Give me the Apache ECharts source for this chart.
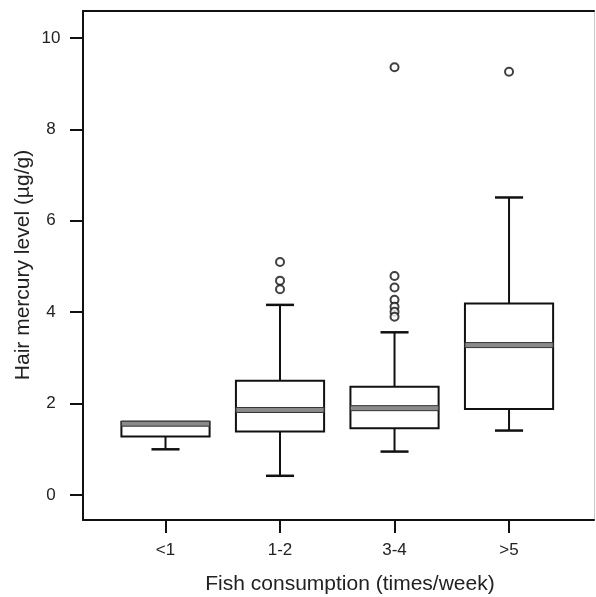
<!DOCTYPE html>
<html>
<head>
<meta charset="utf-8">
<script src="https://cdn.jsdelivr.net/npm/echarts@6/dist/echarts.min.js"></script>
<style>
  html, body { margin: 0; padding: 0; background: #fff; }
  #chart { width: 596px; height: 597px; }
</style>
</head>
<body>
<div id="chart"></div>
<script>
// groups on the x axis
var categories = ["<1", "1-2", "3-4", ">5"];
// box stats per group: lower whisker, Q1, median, Q3, upper whisker
var lowerWhisker = [1.0, 0.42, 0.95, 1.41];
var q1 = [1.28, 1.39, 1.46, 1.88];
var median = [1.56, 1.86, 1.90, 3.28];
var q3 = [1.60, 2.50, 2.37, 4.19];
var upperWhisker = [1.60, 4.16, 3.56, 6.51];
// outliers: [group index, value]
var outliers = [
  [1, 5.10], [1, 4.69], [1, 4.50],
  [2, 9.36], [2, 4.79], [2, 4.54], [2, 4.27], [2, 4.12], [2, 4.01], [2, 3.90],
  [3, 9.26]
];
var yTicks = [0, 2, 4, 6, 8, 10];

var boxData = categories.map(function (c, i) {
  return [i + 1, lowerWhisker[i], q1[i], median[i], q3[i], upperWhisker[i]];
});
var outlierData = outliers.map(function (o) { return [o[0] + 1, o[1]]; });

var boxW = 0.77;  // box width in x units
var capW = 0.245; // whisker cap width

function renderBox(params, api) {
  var x = api.value(0);
  var pLow = api.coord([x, api.value(1)]);
  var pQ1 = api.coord([x, api.value(2)]);
  var pMed = api.coord([x, api.value(3)]);
  var pQ3 = api.coord([x, api.value(4)]);
  var pUp = api.coord([x, api.value(5)]);
  var half = api.size([boxW, 0])[0] / 2;
  var capHalf = api.size([capW, 0])[0] / 2;
  var cx = pQ1[0];
  var lineStyle = { stroke: "#111", lineWidth: 2 };
  var children = [];
  if (pUp[1] < pQ3[1] - 1) {
    children.push({ type: "line", shape: { x1: cx, y1: pQ3[1], x2: cx, y2: pUp[1] }, style: lineStyle });
    children.push({ type: "line", shape: { x1: cx - capHalf, y1: pUp[1], x2: cx + capHalf, y2: pUp[1] }, style: { stroke: "#111", lineWidth: 2.5 } });
  }
  children.push({ type: "line", shape: { x1: cx, y1: pQ1[1], x2: cx, y2: pLow[1] }, style: lineStyle });
  children.push({ type: "line", shape: { x1: cx - capHalf, y1: pLow[1], x2: cx + capHalf, y2: pLow[1] }, style: { stroke: "#111", lineWidth: 2.5 } });
  children.push({
    type: "rect",
    shape: { x: cx - half, y: pQ3[1], width: half * 2, height: pQ1[1] - pQ3[1] },
    style: { fill: "#fff", stroke: "#111", lineWidth: 2 }
  });
  children.push({
    type: "rect",
    shape: { x: cx - half, y: pMed[1] - 2.5, width: half * 2, height: 5 },
    style: { fill: "#8a8a8a", stroke: "#333", lineWidth: 1 }
  });
  return { type: "group", children: children };
}

var chart = echarts.init(document.getElementById("chart"));
chart.setOption({
  animation: false,
  backgroundColor: "#fff",
  textStyle: { fontFamily: "Liberation Sans" },
  grid: { left: 83, right: 2, top: 11, bottom: 77 },
  graphic: [{
    type: "text",
    x: 23, y: 265,
    rotation: Math.PI / 2,
    style: {
      text: "Hair mercury level (µg/g)",
      font: "21px Liberation Sans",
      fill: "#222",
      align: "center",
      verticalAlign: "middle"
    }
  }, {
    type: "text",
    x: 350, y: 584,
    style: {
      text: "Fish consumption (times/week)",
      font: "21px Liberation Sans",
      fill: "#222",
      align: "center",
      verticalAlign: "middle"
    }
  }],
  xAxis: [{
    type: "value",
    min: 0.2795,
    max: 4.742,
    axisLine: { show: true, onZero: false, lineStyle: { color: "#111", width: 2 } },
    axisTick: { show: true, length: 13, customValues: [1, 2, 3, 4], lineStyle: { color: "#111", width: 2 } },
    axisLabel: {
      customValues: [1, 2, 3, 4],
      margin: 22,
      fontSize: 17,
      color: "#222",
      formatter: function (v) { return categories[Math.round(v) - 1] || ""; }
    },
    splitLine: { show: false }
  }, {
    type: "value",
    position: "top",
    min: 0.2795,
    max: 4.742,
    axisLine: { show: true, onZero: false, lineStyle: { color: "#111", width: 2 } },
    axisTick: { show: false },
    axisLabel: { show: false },
    splitLine: { show: false }
  }],
  yAxis: [{
    type: "value",
    min: -0.547,
    max: 10.59,
    axisLine: { show: true, onZero: false, lineStyle: { color: "#111", width: 2 } },
    axisTick: { show: true, length: 13, customValues: yTicks, lineStyle: { color: "#111", width: 2 } },
    axisLabel: { customValues: yTicks, margin: 32, align: "center", fontSize: 17, color: "#222" },
    splitLine: { show: false }
  }, {
    type: "value",
    position: "right",
    min: -0.547,
    max: 10.59,
    axisLine: { show: true, onZero: false, lineStyle: { color: "#bbb", width: 1, type: "dotted" } },
    axisTick: { show: false },
    axisLabel: { show: false },
    splitLine: { show: false }
  }],
  series: [{
    type: "custom",
    renderItem: renderBox,
    encode: { x: 0, y: [1, 2, 3, 4, 5] },
    data: boxData,
    z: 2
  }, {
    type: "scatter",
    symbol: "circle",
    symbolSize: 8,
    itemStyle: { color: "#fff", borderColor: "#111", borderWidth: 2 },
    data: outlierData,
    z: 3
  }]
});
</script>
</body>
</html>
